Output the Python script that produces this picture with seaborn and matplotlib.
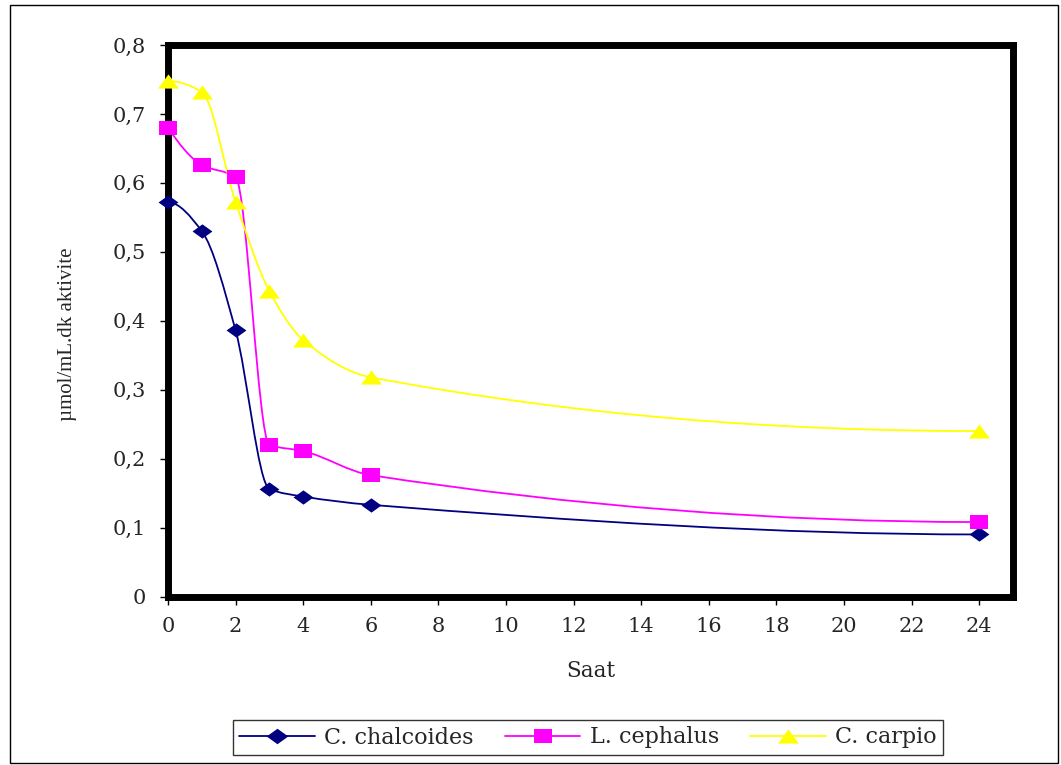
import numpy as np
import pandas as pd
import matplotlib
matplotlib.use('Agg')
import matplotlib.pyplot as plt
import seaborn as sns
from matplotlib.path import Path
from matplotlib.patches import PathPatch, Rectangle
from matplotlib.lines import Line2D
from matplotlib.ticker import FuncFormatter

saat = [0, 1, 2, 3, 4, 6, 24]
chalcoides = [0.572, 0.530, 0.386, 0.156, 0.145, 0.133, 0.090]
cephalus = [0.680, 0.626, 0.608, 0.220, 0.211, 0.176, 0.108]
carpio = [0.748, 0.732, 0.572, 0.443, 0.372, 0.318, 0.240]
names = ['C. chalcoides', 'L. cephalus', 'C. carpio']
colors = ['#000080', '#FF00FF', '#FFFF00']

# excel markers are a bit wider than tall
diamond = Path([(-1, 0), (0, 0.72), (1, 0), (0, -0.72), (-1, 0)], closed=True)
square = Path([(-1, -0.75), (1, -0.75), (1, 0.75), (-1, 0.75), (-1, -0.75)], closed=True)
triangle = Path([(-1, -0.68), (1, -0.68), (0, 0.68), (-1, -0.68)], closed=True)
markers = [diamond, square, triangle]
msizes = [14.3, 12.6, 15]
leg_msizes = [15.5, 13.2, 15]

sns.set_style('white')
plt.rcParams['font.family'] = ['DejaVu Serif']


def smooth_path(x, y):
    # smoothed line like excel: cubic bezier through the points, monotone slopes
    x = np.asarray(x, float)
    y = np.asarray(y, float)
    n = len(x)
    h = np.diff(x)
    d = np.diff(y) / h
    m = np.zeros(n)
    for k in range(1, n - 1):
        if d[k - 1] * d[k] > 0:
            w1 = 2 * h[k] + h[k - 1]
            w2 = h[k] + 2 * h[k - 1]
            m[k] = (w1 + w2) / (w1 / d[k - 1] + w2 / d[k])
    for k, (h0, h1, d0, d1) in [(0, (h[0], h[1], d[0], d[1])), (n - 1, (h[-1], h[-2], d[-1], d[-2]))]:
        s = ((2 * h0 + h1) * d0 - h0 * d1) / (h0 + h1)
        if np.sign(s) != np.sign(d0):
            s = 0
        elif np.sign(d0) != np.sign(d1) and abs(s) > 3 * abs(d0):
            s = 3 * d0
        m[k] = s
    verts = [(x[0], y[0])]
    codes = [Path.MOVETO]
    for k in range(n - 1):
        verts += [(x[k] + h[k] / 3, y[k] + m[k] * h[k] / 3),
                  (x[k + 1] - h[k] / 3, y[k + 1] - m[k + 1] * h[k] / 3),
                  (x[k + 1], y[k + 1])]
        codes += [Path.CURVE4] * 3
    return Path(verts, codes)


df = pd.DataFrame({'Saat': saat * 3,
                   'val': chalcoides + cephalus + carpio,
                   'tur': sum([[n] * len(saat) for n in names], [])})

fig = plt.figure(figsize=(10.61, 7.65), dpi=100)
ax = fig.add_axes([168 / 1061, 1 - 596.5 / 765, (1013 - 168) / 1061, (596.5 - 45) / 765])

for name, vals, c, m, ms in zip(names, [chalcoides, cephalus, carpio], colors, markers, msizes):
    ax.add_patch(PathPatch(smooth_path(saat, vals), fill=False, ec=c, lw=1.3, zorder=2))
    sns.scatterplot(data=df[df.tur == name], x='Saat', y='val', marker=m, color=c,
                    s=ms ** 2, linewidth=0, ax=ax, zorder=3, clip_on=False, legend=False)

ax.set_xlim(0, 25)
ax.set_ylim(0, 0.8)
ax.set_xticks(range(0, 25, 2))
ax.set_yticks(np.arange(0, 0.81, 0.1))
ax.yaxis.set_major_formatter(FuncFormatter(lambda v, p: '0' if abs(v) < 1e-9 else f'{v:.1f}'.replace('.', ',')))
ax.tick_params(axis='both', direction='out', length=6, width=1, color='black',
               labelsize=15, bottom=True, left=True)
ax.tick_params(axis='y', pad=10)
ax.tick_params(axis='x', pad=9)
for s in ax.spines.values():
    s.set_linewidth(5)
    s.set_color('black')

ax.set_xlabel('Saat', fontsize=15.5)
ax.xaxis.set_label_coords(0.5, -0.116)
ax.set_ylabel('µmol/mL.dk aktivite', fontsize=15, family=['Liberation Serif'])
ax.yaxis.set_label_coords(-0.108, 0.475)

handles = [Line2D([], [], color=c, marker=m, markersize=ms, lw=1.3, markeredgewidth=0)
           for c, m, ms in zip(colors, markers, leg_msizes)]
leg = fig.legend(handles, names, loc='center', bbox_to_anchor=(588 / 1061, 1 - 737.5 / 765), ncol=3,
                 fontsize=16, frameon=True, fancybox=False, edgecolor='black',
                 handlelength=3.4, handletextpad=0.42, columnspacing=1.4, borderpad=0.28)
leg.get_frame().set_linewidth(1)

fig.add_artist(Rectangle((10 / 1061, 2 / 765), 1048 / 1061, 758 / 765, transform=fig.transFigure,
                         fill=False, ec='black', lw=1))

fig.savefig('out.png', dpi=100)
